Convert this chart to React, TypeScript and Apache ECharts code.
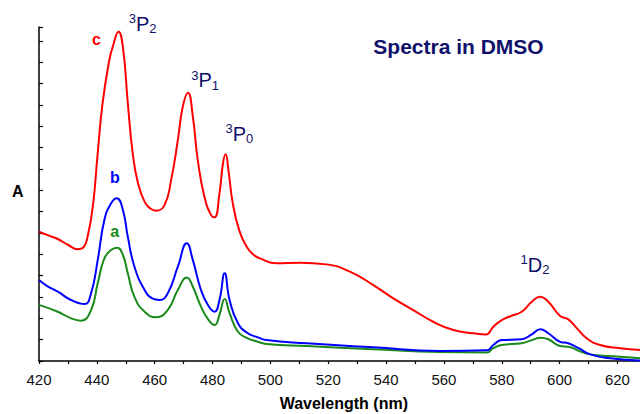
import React, { useEffect, useRef } from "react";
import * as echarts from "echarts";

// Wavelength (nm) / absorbance (arbitrary units) readings for each spectrum
const redX = [420, 423, 426.5, 430, 433.4, 435.5, 436.8, 438.6, 440.3, 442, 444.3, 445.5, 447.5, 449, 450.7, 452.4, 454.2, 456.5, 458.5, 460.5, 463.4, 465.7, 468, 469.7, 471.5, 473.2, 474.9, 477.2, 479.5, 480.7, 482.4, 483.6, 484.5, 485.5, 487, 489.3, 491.8, 494, 496.4, 502.1, 510.2, 519.4, 527.5, 535.6, 542.5, 549.4, 556.3, 563.3, 570.2, 574.5, 577.1, 580, 583, 586.9, 590.4, 593.3, 596.1, 600.2, 603, 606, 609.4, 614, 620.9, 627.8];
const redY = [6.06, 5.9, 5.72, 5.45, 5.24, 5.35, 5.83, 7.23, 9.75, 12.1, 14.1, 14.73, 15.44, 14.73, 12.1, 9.75, 8.35, 7.47, 7.15, 7.05, 7.31, 8.49, 10.36, 11.92, 12.58, 11.45, 9.42, 7.7, 6.84, 6.74, 7.86, 9.26, 9.69, 8.95, 7.39, 6.1, 5.36, 5.0, 4.81, 4.58, 4.61, 4.53, 4.19, 3.56, 2.94, 2.39, 1.84, 1.45, 1.3, 1.24, 1.61, 1.92, 2.1, 2.31, 2.78, 3.01, 2.78, 2.11, 1.95, 1.53, 1.06, 0.75, 0.6, 0.52];

const blueX = [420, 423, 426.5, 431.1, 435.7, 438, 440.3, 442.6, 444.9, 446.9, 449, 450.7, 453, 456.5, 459, 461.7, 464.5, 468, 471.1, 473.2, 476, 478.5, 480.7, 482.4, 484.2, 485.9, 488.8, 492.2, 495.7, 498.7, 512.5, 535.6, 558.7, 574.8, 577.1, 580, 586.9, 590.4, 593.3, 596.1, 600.2, 603, 606.6, 610.6, 617.5, 627.8];
const blueY = [3.8, 3.5, 3.25, 2.86, 2.67, 3.17, 4.73, 6.61, 7.39, 7.63, 7.08, 5.83, 4.42, 3.33, 2.95, 2.86, 3.17, 4.42, 5.52, 4.73, 3.33, 2.6, 2.31, 2.86, 4.11, 2.86, 1.77, 1.3, 1.11, 0.98, 0.83, 0.64, 0.47, 0.5, 0.75, 0.98, 1.02, 1.25, 1.49, 1.3, 0.9, 0.83, 0.6, 0.31, 0.13, 0.02];

const greenX = [420, 426.5, 431.1, 434.5, 438, 440.3, 442.6, 444.9, 447, 449, 450.7, 453, 456.5, 460.5, 464.5, 468, 471.1, 473.2, 476, 478.5, 480.7, 482.4, 484.2, 485.9, 488.8, 492.2, 495.7, 498.7, 512.5, 535.6, 558.7, 574.8, 577.1, 580, 586.9, 590.4, 593.3, 596.1, 600.2, 603, 606.6, 610.6, 617.5, 627.8];
const greenY = [2.63, 2.31, 2.0, 1.89, 2.39, 3.64, 4.81, 5.2, 5.31, 4.97, 4.11, 3.01, 2.31, 2.05, 2.39, 3.33, 3.91, 3.48, 2.55, 1.95, 1.69, 2.16, 2.91, 2.24, 1.37, 1.06, 0.9, 0.8, 0.7, 0.55, 0.42, 0.4, 0.6, 0.75, 0.83, 0.98, 1.09, 1.02, 0.7, 0.67, 0.48, 0.31, 0.23, 0.13];

const xMin = 420;
const xMax = 627.8;
const yMin = 0;
const yMax = 15.66;
const xLabelStep = 20;

// Transition labels: [superscript, letter, subscript]
const bandLabels = [
  ["3", "P", "2"],
  ["3", "P", "1"],
  ["3", "P", "0"],
  ["1", "D", "2"],
];

const FONT = '"Liberation Sans", Arial, Helvetica, sans-serif';
const NAVY = "#10106a";
const RED = "#ff0000";
const BLUE = "#0000ff";
const GREEN = "#1a8a1a";

function pairs(xs: number[], ys: number[]) {
  return xs.map((x, i) => [x, ys[i]]);
}

function txt(text: string, x: number, y: number, size: number, fill: string, bold: boolean, align = "left") {
  return {
    type: "text",
    x,
    y,
    silent: true,
    style: {
      text,
      font: `${bold ? "bold " : ""}${size}px ${FONT}`,
      fill,
      align,
      verticalAlign: "middle",
      textAlign: align,
      textVerticalAlign: "middle",
    },
  };
}

function band(label: string[], x: number, top: number) {
  const [sup, main, sub] = label;
  return {
    type: "text",
    x,
    y: top,
    silent: true,
    style: {
      text: `{s|${sup}}{p|${main}}{b|${sub}}`,
      align: "left",
      verticalAlign: "top",
      textAlign: "left",
      textVerticalAlign: "top",
      rich: {
        s: { fontSize: 13, fontFamily: FONT, fill: NAVY, color: NAVY, lineHeight: 13, verticalAlign: "top" },
        p: { fontSize: 20, fontFamily: FONT, fill: NAVY, color: NAVY, lineHeight: 23, verticalAlign: "middle" },
        b: { fontSize: 13, fontFamily: FONT, fill: NAVY, color: NAVY, lineHeight: 8, verticalAlign: "bottom" },
      },
    },
  };
}

export default function App() {
  const ref = useRef<HTMLDivElement>(null);

  useEffect(() => {
    if (!ref.current) return;
    const chart = echarts.init(ref.current, null, { renderer: "svg" });
    const lineSeries = (name: string, xs: number[], ys: number[], color: string) => ({
      name,
      type: "line",
      data: pairs(xs, ys),
      showSymbol: false,
      smooth: 0.5,
      clip: true,
      lineStyle: { color, width: 2 },
      itemStyle: { color },
    });
    chart.setOption({
      animation: false,
      backgroundColor: "#ffffff",
      grid: { left: 39, right: 0, top: 27, bottom: 53, containLabel: false },
      xAxis: {
        type: "value",
        min: xMin,
        max: xMax,
        interval: 10,
        axisLine: { show: true, lineStyle: { color: "#000", width: 1.5 } },
        axisTick: { show: true, inside: false, length: 3, lineStyle: { color: "#000", width: 1.2 } },
        splitLine: { show: false },
        axisLabel: {
          margin: 11,
          fontSize: 15,
          fontFamily: FONT,
          color: "#111",
          showMaxLabel: false,
          formatter: (v: number) => (Math.abs(v % xLabelStep) < 1e-6 ? String(v) : ""),
        },
      },
      yAxis: {
        type: "value",
        min: yMin,
        max: yMax,
        interval: 1,
        axisLine: { show: true, lineStyle: { color: "#000", width: 1.5 } },
        axisTick: { show: true, inside: true, length: 4, lineStyle: { color: "#000", width: 1.2 } },
        splitLine: { show: false },
        axisLabel: { show: false },
      },
      series: [
        lineSeries("a", greenX, greenY, GREEN),
        lineSeries("b", blueX, blueY, BLUE),
        lineSeries("c", redX, redY, RED),
      ],
      graphic: [
        txt("Spectra in DMSO", 458.5, 46, 21, NAVY, true, "center"),
        txt("Wavelength (nm)", 343.8, 403.5, 16, "#000", true, "center"),
        txt("A", 17.8, 191.2, 16, "#000", true, "center"),
        txt("c", 96.5, 39.5, 16, RED, true, "center"),
        txt("b", 114.8, 177.8, 16, BLUE, true, "center"),
        txt("a", 114.7, 231.8, 16, GREEN, true, "center"),
        band(bandLabels[0], 128.8, 12),
        band(bandLabels[1], 191.2, 68.5),
        band(bandLabels[2], 225.5, 122.2),
        band(bandLabels[3], 520.5, 253),
      ],
    });
    return () => chart.dispose();
  }, []);

  return (
    <div
      ref={ref}
      style={{ position: "fixed", left: 0, top: 0, width: 640, height: 414, background: "#fff" }}
    />
  );
}
